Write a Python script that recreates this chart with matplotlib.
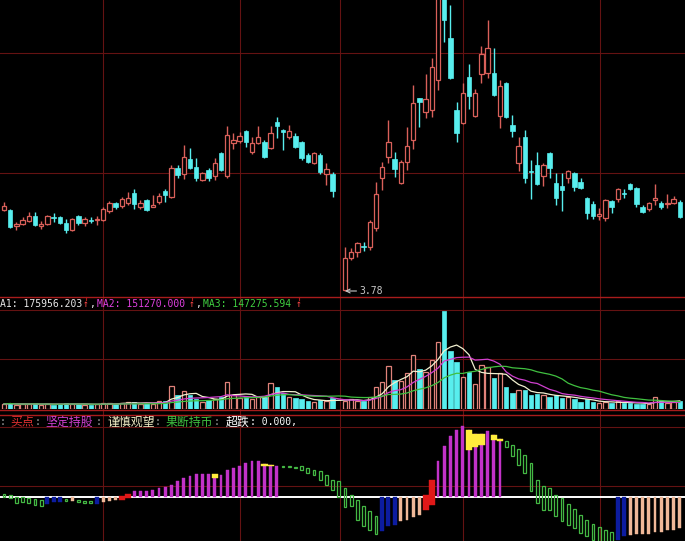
import numpy as np
import pandas as pd
import matplotlib
matplotlib.use('Agg')
import matplotlib.pyplot as plt

# daily bars, nan = no bar that day
opens = [4.59, 4.59, 4.43, 4.45, 4.48, 4.53, 4.43, 4.45, 4.52, 4.52,
         4.46, 4.39, 4.53, 4.46, 4.49, 4.49, 4.49, 4.58, 4.66, 4.63,
         4.66, 4.76, 4.62, 4.69, 4.62, 4.67, 4.78, 4.72, 5.01, 4.95,
         5.10, 5.02, 4.89, 4.99, 4.93, 5.16, 4.93, 5.26, 5.28, 5.38,
         5.17, 5.26, 5.27, 5.21, 5.47, 5.39, 5.32, 5.33, 5.27, 5.14,
         5.06, 5.14, 4.95, 4.95, np.nan, 3.79, 4.11, 4.17, 4.23, 4.22,
         4.41, 4.91, 5.12, 5.10, 4.86, 5.07, 5.29, 5.71, 5.57, 5.59,
         5.89, 6.75, 6.31, 5.59, 5.46, 5.92, 5.53, 5.95, 5.96, 5.96,
         5.53, 5.86, 5.44, 5.06, 5.32, 4.98, 5.04, 4.93, 5.16, 4.86,
         4.83, 4.91, 4.96, 4.87, 4.71, 4.65, 4.53, 4.51, 4.68, 4.70,
         4.76, 4.85, 4.81, 4.62, 4.60, 4.69, 4.66, 4.65, 4.66, 4.67]
highs = [4.67, 4.60, 4.47, 4.52, 4.57, 4.57, 4.48, 4.54, 4.56, 4.53,
         4.50, 4.51, 4.54, 4.52, 4.52, 4.53, 4.62, 4.68, 4.67, 4.72,
         4.77, 4.80, 4.69, 4.70, 4.74, 4.76, 4.80, 5.04, 5.04, 5.24,
         5.21, 5.11, 4.97, 5.01, 5.11, 5.17, 5.43, 5.36, 5.37, 5.39,
         5.32, 5.43, 5.29, 5.43, 5.52, 5.40, 5.44, 5.36, 5.28, 5.16,
         5.17, 5.16, 5.06, 4.97, np.nan, 4.22, 4.21, 4.27, 4.27, 4.49,
         4.87, 5.07, 5.49, 5.17, 5.09, 5.42, 5.84, 5.71, 5.95, 6.11,
         6.84, 6.94, 6.64, 5.67, 5.86, 6.05, 5.80, 6.23, 6.49, 6.21,
         5.89, 5.87, 5.54, 5.32, 5.39, 5.09, 5.17, 5.06, 5.17, 4.96,
         4.96, 4.99, 4.97, 4.91, 4.72, 4.68, 4.61, 4.70, 4.69, 4.81,
         4.80, 4.86, 4.82, 4.64, 4.67, 4.85, 4.68, 4.75, 4.73, 4.69]
lows = [4.58, 4.41, 4.39, 4.44, 4.47, 4.43, 4.40, 4.44, 4.47, 4.45,
        4.36, 4.38, 4.44, 4.43, 4.46, 4.44, 4.48, 4.56, 4.60, 4.61,
        4.64, 4.60, 4.60, 4.58, 4.62, 4.65, 4.67, 4.71, 4.91, 4.90,
        5.00, 4.88, 4.88, 4.88, 4.89, 4.98, 4.91, 5.20, 5.26, 5.22,
        5.15, 5.25, 5.11, 5.20, 5.31, 5.19, 5.30, 5.21, 5.09, 5.06,
        5.05, 4.95, 4.84, 4.72, np.nan, 3.78, 4.09, 4.12, 4.18, 4.19,
        4.38, 4.79, 5.06, 4.92, 4.85, 4.99, 5.20, 5.42, 5.51, 5.52,
        5.79, 6.27, 5.90, 5.27, 5.45, 5.60, 5.52, 5.86, 5.91, 5.73,
        5.41, 5.51, 5.32, 4.98, 4.86, 4.70, 4.84, 4.83, 4.91, 4.64,
        4.58, 4.86, 4.78, 4.80, 4.50, 4.50, 4.49, 4.48, 4.56, 4.67,
        4.71, 4.79, 4.62, 4.56, 4.58, 4.64, 4.60, 4.61, 4.65, 4.51]
closes = [4.63, 4.42, 4.45, 4.49, 4.53, 4.44, 4.45, 4.53, 4.51, 4.46,
          4.39, 4.50, 4.46, 4.50, 4.48, 4.50, 4.60, 4.66, 4.62, 4.70,
          4.71, 4.65, 4.66, 4.59, 4.64, 4.73, 4.74, 5.01, 4.94, 5.12,
          5.01, 4.91, 4.96, 4.91, 5.06, 4.99, 5.34, 5.29, 5.33, 5.27,
          5.26, 5.32, 5.12, 5.36, 5.43, 5.37, 5.38, 5.22, 5.11, 5.07,
          5.16, 4.97, 5.00, 4.78, np.nan, 4.11, 4.17, 4.26, 4.22, 4.47,
          4.75, 5.02, 5.27, 5.00, 5.07, 5.23, 5.66, 5.67, 5.70, 6.02,
          6.75, 6.49, 5.91, 5.36, 5.76, 5.73, 5.76, 6.15, 6.21, 5.74,
          5.83, 5.52, 5.38, 5.23, 4.91, 4.97, 4.85, 5.04, 5.01, 4.71,
          4.79, 4.98, 4.82, 4.81, 4.56, 4.53, 4.55, 4.69, 4.62, 4.80,
          4.75, 4.80, 4.65, 4.57, 4.66, 4.71, 4.62, 4.66, 4.70, 4.52]
# volume, 10k
vols = [15, 18, 12, 15, 15, 18, 12, 15, 12, 15,
        18, 15, 15, 12, 12, 15, 18, 18, 15, 18,
        21, 21, 15, 18, 15, 24, 24, 69, 42, 54,
        42, 30, 21, 27, 30, 36, 81, 42, 33, 36,
        30, 36, 36, 78, 66, 48, 36, 33, 30, 24,
        21, 27, 24, 33, np.nan, 24, 30, 24, 24, 36,
        66, 81, 129, 87, 84, 108, 165, 120, 111, 150,
        204, 297, 177, 141, 96, 111, 75, 132, 126, 93,
        108, 66, 48, 57, 57, 42, 45, 42, 36, 42,
        33, 36, 30, 21, 30, 21, 18, 21, 18, 24,
        18, 18, 15, 15, 15, 36, 24, 18, 21, 24]

# oscillator: state per day (G=hold cash, B=oversold, P=weak, R=buy, M=hold)
osc_kind = ("GGGGGGGBBBGPGGGBPPPRR" + "M" * 24 + "G" * 16 + "BBB" + "PPPP"
            + "RR" + "M" * 11 + "G" * 18 + "BB" + "P" * 9)
osc_lo = [0, -1.3, -6, -5.3, -6, -7.7, -8.7, -6.7, -5.3, -5.3,
          -4.3, -4.3, -5.3, -6, -6, -6.7, -5.3, -4.3, -3.3, -2.7,
          -1, 0, 0, 0, 0, 0, 0, 0, 0, 0,
          0, 0, 0, 0, 0, 0, 0, 0, 0, 0,
          0, 0, 0, 0, 0, 30, 29.7, 28.7, 27.3, 24,
          22.3, 16.7, 12.3, 7.3, 0, -10, -9.3, -22.7, -29.3, -32.7,
          -36.7, -34.3, -29.3, -27.7, -24.3, -22.7, -20, -17.7, -12.7, -7.7,
          0, 0, 0, 0, 0, 0, 0, 0, 0, 0,
          0, 50, 40.7, 32.3, 24, 5.7, -6, -12.7, -12.7, -19.3,
          -24.3, -27.7, -31, -36, -39.3, -43.3, -46, -48, -50, -42.7,
          -39.3, -37.7, -36.7, -36.7, -36.7, -35.3, -35.3, -33.3, -32.7, -31]
osc_hi = [3.3, 2, 0, 0, -1, -2, -3.3, 0, 0, 0,
          -2, 0, -3.3, -4.3, -4.3, 0, 0, 0, 0, 1.3,
          3.3, 5.7, 5.7, 6.3, 7.3, 9, 10, 12.3, 15.7, 19,
          21.3, 23.3, 23.3, 23.3, 19, 22.3, 26.7, 29, 31.3, 34,
          35.7, 35.7, 33.3, 32.3, 30.7, 31.3, 30.7, 30, 30.7, 29,
          27.3, 25.7, 22.3, 17.3, 15.7, 9, 2.3, -2.7, -9.3, -14.3,
          -19.3, 0, 0, 0, 0, 0, 0, 0, 2.3, 16.7,
          35.7, 50.7, 60.7, 66.7, 70.7, 67.3, 63.3, 63.3, 65.7, 62.3,
          58, 55.7, 52.3, 48, 42.3, 34, 17.3, 10.7, 9, 2.3,
          -1, -6.7, -12, -17.7, -22.7, -26.7, -30, -33.3, -35.3, 0,
          0, 0, 0, 0, 0, 0, 0, 0, 0, 0]
# caution marks on top of the hold bars
warn_idx = [34, 42, 43, 75, 76, 77, 79, 80]
warn_lo = [19, 30.7, 30.7, 47.3, 50, 52.3, 56.7, 56]
warn_hi = [23.3, 33.3, 32.3, 67.3, 63.3, 63.3, 62.3, 58]

# header texts
vol_head = [('A1: 175956.203', '#E8E8E8'), ('↑', '#FF4848'), (',', '#E8E8E8'),
            ('MA2: 151270.000', '#E040E0'), ('↑', '#FF4848'), (',', '#E8E8E8'),
            ('MA3: 147275.594', '#40D040'), ('↑', '#FF4848')]
vol_head_x = [0, 83, 89, 97, 189, 195, 203, 296]
osc_head = [(':', '#A0A0A0'), ('买点', '#E03030'), (':', '#A0A0A0'),
            ('坚定持股', '#D040D0'), (':', '#A0A0A0'), ('谨慎观望', '#F4F0C8'),
            (':', '#A0A0A0'), ('果断持币', '#40C040'), (':', '#A0A0A0'),
            ('超跌', '#FFFFFF'), (': 0.000,', '#FFFFFF')]
osc_head_x = [0, 10, 35, 45, 96, 107, 155, 166, 214, 226, 250]

RED = '#D9605A'
CYAN = '#58EEEE'
GRID = '#641212'
EDGE = '#A81C1C'

W, H = 685, 541
fig = plt.figure(figsize=(W / 100, H / 100), dpi=100, facecolor='black')

bg = fig.add_axes([0, 0, 1, 1], zorder=0)
bg.set_xlim(0, W)
bg.set_ylim(H, 0)
bg.set_facecolor('black')
bg.axis('off')
for gx in [103, 240, 340, 463, 600]:
    bg.axvline(gx, color=GRID, lw=0.8)
for gy in [53, 173, 310, 359, 427, 486]:
    bg.axhline(gy, color=GRID, lw=0.8)
for gy in [297, 410, 415]:
    bg.axhline(gy, color=EDGE, lw=1.0)
for tx in [86, 192, 299]:
    bg.plot([tx, tx], [297, 300], color=EDGE, lw=0.8)

for (s, col), tx in zip(vol_head, vol_head_x):
    bg.text(tx, 304, s, color=col, fontsize=7, family='DejaVu Sans Mono', va='center', ha='left')
for (s, col), tx in zip(osc_head, osc_head_x):
    if s.startswith(':'):
        bg.text(tx, 422, s, color=col, fontsize=7, family='DejaVu Sans Mono',
                va='center', ha='left')
    else:
        bg.text(tx, 422, s, color=col, fontsize=8.6, family=['Noto Sans CJK SC', 'DejaVu Sans'],
                va='center', ha='left')


def panel(top, bottom):
    a = fig.add_axes([0, 1 - bottom / H, 1, (bottom - top) / H], zorder=1)
    a.set_facecolor('none')
    a.axis('off')
    a.set_xlim(-4 / 6.2, (W - 4) / 6.2)
    return a


o = np.array(opens)
h = np.array(highs)
l = np.array(lows)
c = np.array(closes)
v = np.array(vols, dtype=float)
x = np.arange(len(o))
ok = ~np.isnan(o)
up = ok & (c >= o)
dn = ok & (c < o)

# ---- price panel ----
ax = panel(0, 297)
ax.set_ylim(3.72, 6.69)
ax.vlines(x[up], l[up], h[up], color=RED, lw=1.0, zorder=2)
ax.vlines(x[dn], l[dn], h[dn], color=CYAN, lw=1.0, zorder=2)
body = np.maximum(np.abs(c - o), 0.012)
ax.bar(x[up], body[up], bottom=np.minimum(o, c)[up], width=0.74,
       facecolor='black', edgecolor=RED, lw=0.9, zorder=3)
ax.bar(x[dn], body[dn], bottom=np.minimum(o, c)[dn], width=0.74,
       facecolor=CYAN, edgecolor=CYAN, lw=0.5, zorder=3)
imin = int(np.nanargmin(l))
ax.annotate('%.2f' % l[imin], xy=(imin, l[imin]), xytext=(imin + 2.3, l[imin]),
            color='#C8C8C8', fontsize=7, family='DejaVu Sans Mono', va='center',
            arrowprops=dict(arrowstyle='->', color='#C8C8C8', lw=0.8, shrinkA=0, shrinkB=0))

# ---- volume panel ----
av = panel(310, 409)
av.set_ylim(0, 300)
av.bar(x[up], v[up], width=0.74, facecolor='black', edgecolor='#E0827A', lw=0.9, zorder=2)
av.bar(x[dn], v[dn], width=0.74, facecolor=CYAN, edgecolor=CYAN, lw=0.5, zorder=2)
vs = pd.Series(v)
av.plot(x, vs.rolling(5, min_periods=1).mean(), color='#F2F0D0', lw=0.9, zorder=3)
av.plot(x, vs.rolling(10, min_periods=1).mean(), color='#D040D0', lw=0.9, zorder=3)
av.plot(x, vs.rolling(20, min_periods=1).mean(), color='#40C040', lw=0.9, zorder=3)

# ---- oscillator panel ----
ao = panel(415, 541)
ao.set_ylim(-44, 82)
ao.axhline(0, color='white', lw=1.4, zorder=1)
lo = np.array(osc_lo)
hi = np.array(osc_hi)
kind = np.array(list(osc_kind))
styles = {
    'M': dict(width=0.42, facecolor='#C232C8', edgecolor='#C232C8', lw=0.3),
    'B': dict(width=0.66, facecolor='#0C1CA0', edgecolor='#0C1CA0', lw=0.3),
    'P': dict(width=0.45, facecolor='#F0B898', edgecolor='#F0B898', lw=0.3),
    'R': dict(width=0.95, facecolor='#E01818', edgecolor='#E01818', lw=0.3),
    'G': dict(width=0.42, facecolor='none', edgecolor='#44B844', lw=0.9),
}
for k, st in styles.items():
    m = kind == k
    ao.bar(x[m], hi[m] - lo[m], bottom=lo[m], zorder=2, **st)
wl = np.array(warn_lo)
ao.bar(warn_idx, np.array(warn_hi) - wl, bottom=wl, width=1.0,
       facecolor='#FFEC3C', edgecolor='#FFEC3C', lw=0.3, zorder=3)

fig.savefig('out.png', dpi=100, facecolor='black')
